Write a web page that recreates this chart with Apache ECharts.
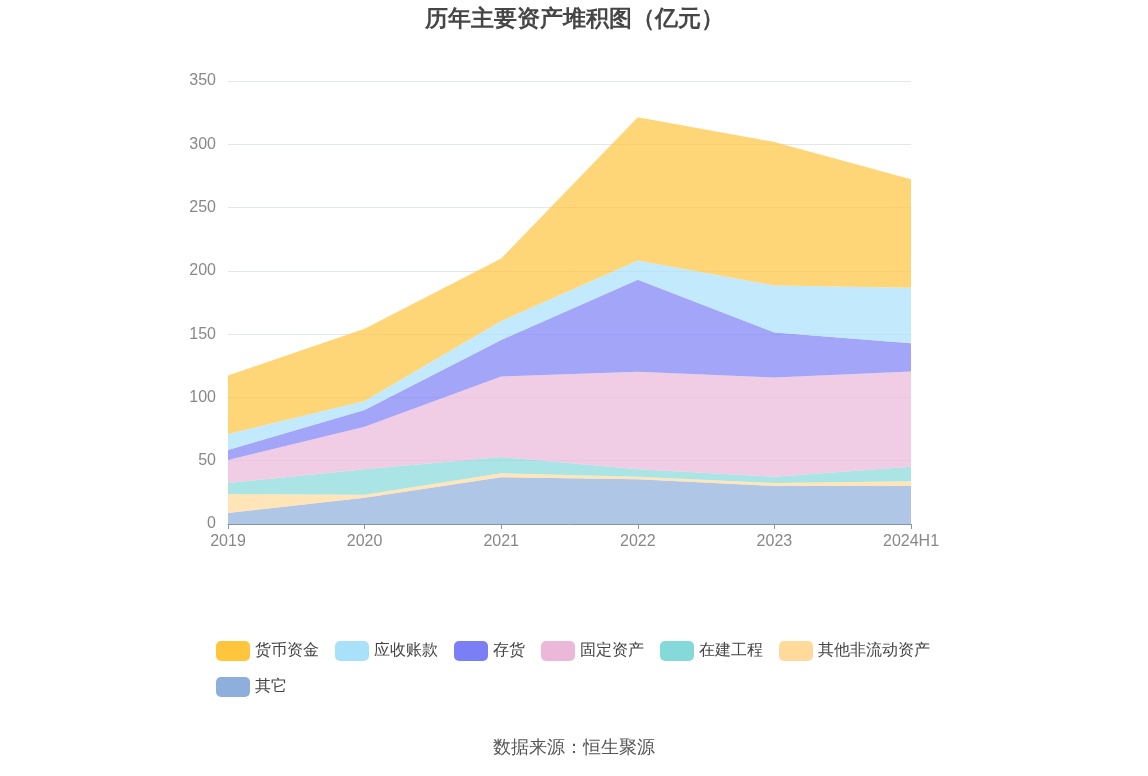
<!DOCTYPE html>
<html lang="zh-CN">
  <head>
    <meta charset="UTF-8" />
    <title>历年主要资产堆积图</title>
    <style>
      html, body { margin: 0; padding: 0; width: 100%; height: 100%; overflow: hidden; background: #fff; }
      #chart { width: 1148px; height: 776px; }
    </style>
    <script src="https://cdn.jsdelivr.net/npm/echarts@6/dist/echarts.min.js"></script>
  </head>
  <body>
    <div id="chart"></div>
    <script>
      const years = ["2019", "2020", "2021", "2022", "2023", "2024H1"];

      // 各项资产（亿元），自下而上堆叠
      const qita = [8.7, 20.8, 36.9, 35.3, 30.0, 30.0];
      const feiliudong = [15.0, 2.4, 3.1, 2.1, 2.4, 3.7];
      const zaijian = [8.7, 20.0, 12.9, 5.8, 5.0, 11.6];
      const guding = [18.2, 33.7, 63.7, 77.1, 78.4, 75.2];
      const cunhuo = [7.9, 13.1, 28.7, 72.6, 35.5, 22.4];
      const yingshou = [12.6, 7.1, 15.0, 15.3, 37.1, 43.7];
      const huobi = [46.3, 57.1, 49.4, 113.1, 113.4, 85.8];

      const legendOrder = ["货币资金", "应收账款", "存货", "固定资产", "在建工程", "其他非流动资产", "其它"];

      const seriesDefs = [
        { name: "其它", data: qita, color: "#8eaedc" },
        { name: "其他非流动资产", data: feiliudong, color: "#ffda9a" },
        { name: "在建工程", data: zaijian, color: "#86d9d9" },
        { name: "固定资产", data: guding, color: "#ebb8da" },
        { name: "存货", data: cunhuo, color: "#7b7ff5" },
        { name: "应收账款", data: yingshou, color: "#a9e1fb" },
        { name: "货币资金", data: huobi, color: "#ffc53d" }
      ];

      const chart = echarts.init(document.getElementById("chart"));

      const option = {
        title: {
          text: "历年主要资产堆积图（亿元）",
          left: "center",
          top: 3,
          textStyle: { fontSize: 23, fontWeight: "bold", color: "#464646" }
        },
        legend: {
          data: legendOrder,
          left: 211,
          top: 636,
          width: 760,
          itemWidth: 34,
          itemHeight: 20,
          itemGap: 16,
          icon: "roundRect",
          textStyle: { fontSize: 16, color: "#444" }
        },
        graphic: [
          {
            type: "text",
            left: "center",
            top: 739,
            style: { text: "数据来源：恒生聚源", fontSize: 18, fill: "#555" }
          }
        ],
        grid: { left: 228, right: 237, top: 81, bottom: 252 },
        xAxis: {
          type: "category",
          boundaryGap: false,
          data: years,
          axisLine: { lineStyle: { color: "#8a93a6" } },
          axisTick: { show: true, lineStyle: { color: "#8a93a6" } },
          axisLabel: { fontSize: 16, color: "#888", margin: 10 }
        },
        yAxis: {
          type: "value",
          min: 0,
          max: 350,
          interval: 50,
          axisLine: { show: false },
          axisTick: { show: false },
          axisLabel: { fontSize: 16, color: "#888", margin: 12 },
          splitLine: { lineStyle: { color: "#e3e6f0" } }
        },
        series: seriesDefs.map(function (s) {
          return {
            name: s.name,
            type: "line",
            stack: "total",
            data: s.data,
            symbol: "none",
            lineStyle: { width: 0 },
            itemStyle: { color: s.color },
            areaStyle: { color: s.color, opacity: 0.7 }
          };
        })
      };

      chart.setOption(option);
    </script>
  </body>
</html>
